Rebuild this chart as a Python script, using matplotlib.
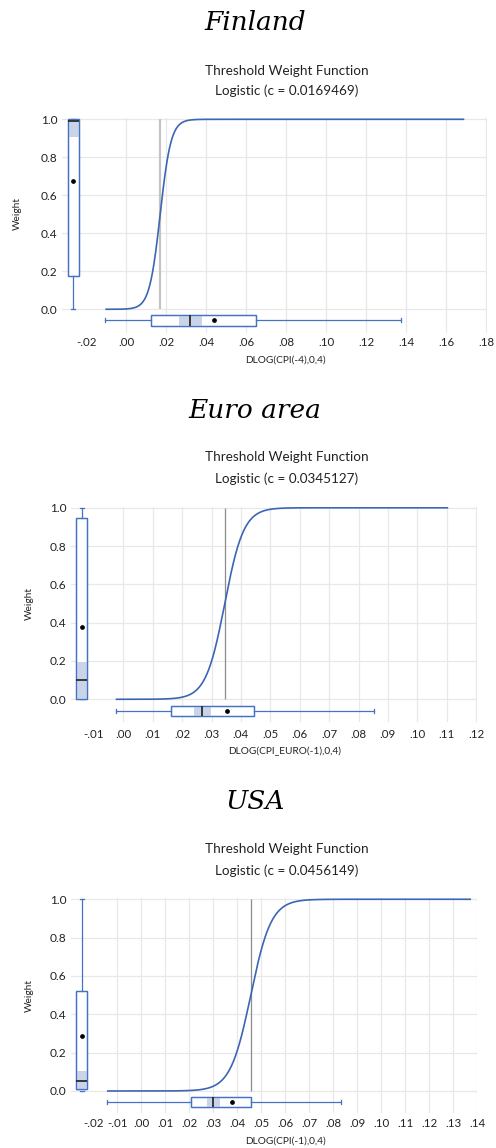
import numpy as np
import matplotlib
matplotlib.use("Agg")
import matplotlib.pyplot as plt
from matplotlib.patches import Rectangle, PathPatch

# ---------------- data ----------------
countries = ["Finland", "Euro area", "USA"]
thresholds = [0.0169469, 0.0345127, 0.0456149]
slopes = [370.0, 310.0, 235.0]
curve_start = [-0.0105, -0.0026, -0.0143]
curve_end = [0.169, 0.1105, 0.1374]
x_titles = ["DLOG(CPI(-4),0,4)", "DLOG(CPI_EURO(-1),0,4)", "DLOG(CPI(-1),0,4)"]

fin_xticks = [-0.02, 0.00, 0.02, 0.04, 0.06, 0.08, 0.10, 0.12, 0.14, 0.16, 0.18]
fin_xlabels = ["-.02", ".00", ".02", ".04", ".06", ".08", ".10", ".12", ".14", ".16", ".18"]
euro_xticks = [-0.01, 0.00, 0.01, 0.02, 0.03, 0.04, 0.05, 0.06, 0.07, 0.08, 0.09, 0.10, 0.11, 0.12]
euro_xlabels = ["-.01", ".00", ".01", ".02", ".03", ".04", ".05", ".06", ".07", ".08", ".09", ".10", ".11", ".12"]
usa_xticks = [-0.02, -0.01, 0.00, 0.01, 0.02, 0.03, 0.04, 0.05, 0.06, 0.07, 0.08, 0.09, 0.10, 0.11, 0.12, 0.13, 0.14]
usa_xlabels = ["-.02", "-.01", ".00", ".01", ".02", ".03", ".04", ".05", ".06", ".07", ".08", ".09", ".10", ".11", ".12", ".13", ".14"]
xticks_all = [fin_xticks, euro_xticks, usa_xticks]
xlabels_all = [fin_xlabels, euro_xlabels, usa_xlabels]
xgrid_first = [0.00, 0.00, -0.01]

yticks = [0.0, 0.2, 0.4, 0.6, 0.8, 1.0]
ylabels = ["0.0", "0.2", "0.4", "0.6", "0.8", "1.0"]

# horizontal box plot of threshold variable
x_whislo = [-0.0105, -0.0026, -0.0143]
x_q1 = [0.0122, 0.0163, 0.0206]
x_med = [0.0319, 0.0269, 0.0300]
x_q3 = [0.0650, 0.0446, 0.0458]
x_whishi = [0.1374, 0.0854, 0.0833]
x_mean = [0.0440, 0.0352, 0.0377]
x_ci_lo = [0.0262, 0.0240, 0.0272]
x_ci_hi = [0.0377, 0.0297, 0.0328]

# vertical box plot of weights
w_whislo = [0.0, 0.0, 0.0]
w_q1 = [0.175, 0.004, 0.010]
w_med = [0.993, 0.099, 0.050]
w_q3 = [1.0, 0.945, 0.522]
w_whishi = [1.0, 0.997, 1.0]
w_mean = [0.677, 0.379, 0.287]
w_ci_lo = [0.905, 0.000, 0.000]
w_ci_hi = [1.0, 0.193, 0.104]

# ---------------- layout ----------------
W, H = 496, 1148
fig = plt.figure(figsize=(W / 100, H / 100), dpi=100)
fig.patch.set_facecolor("white")

def fx(px):
    return px / W

def fy(py):
    return 1 - py / H

# axes rectangles in pixels: left, right, top, bottom
ax_rects = [(62, 487, 118.35, 333.05), (71, 476.7, 506.8, 721.7), (71, 477.3, 898.3, 1113.05)]
xlims = [(-0.03215, 0.18035), (-0.01779, 0.1202), (-0.02929, 0.14)]
ylims = [(-0.125, 1.005), (-0.117, 1.005), (-0.115, 1.005)]
hbox_pos = [-0.058, -0.061, -0.059]
hbox_w = [0.056, 0.057, 0.052]
vbox_pos = [-0.0265, -0.01415, -0.0248]
vbox_w = [0.0055, 0.0036, 0.0044]
xtick_pad = [3.0, 5.0, 3.6]
title_y = [30.3, 417.7, 809.3]
sub_y = [(70.7, 90.7), (457.3, 478.7), (849.3, 870.7)]
xlab_y = [360, 751.7, 1141]
wlab = [(17.3, 213.3), (29.3, 604), (29.3, 995)]
thr_style = [("#c4c4c4", 1.6), ("#8c8c8c", 0.9), ("#8c8c8c", 0.9)]

blue = "#4472c4"
curve_blue = "#3b66b4"
shade = "#c9d4e9"
grid_c = "#e8e8e8"
sans = "Lato"

for i in range(3):
    L, R, T, B = ax_rects[i]
    ax = fig.add_axes([fx(L), fy(B), fx(R - L), (B - T) / H])
    ax.set_xlim(*xlims[i])
    ax.set_ylim(*ylims[i])
    for s in ax.spines.values():
        s.set_visible(False)

    # grid
    for yv in yticks:
        ax.axhline(yv, color=grid_c, lw=0.9, zorder=0)
    for xv in xticks_all[i]:
        if xv >= xgrid_first[i] - 1e-9:
            ax.axvline(xv, color=grid_c, lw=0.9, zorder=0)

    # ticks
    ax.set_xticks(xticks_all[i])
    ax.set_xticklabels(xlabels_all[i], fontsize=8.3, family=sans, color="#222222")
    ax.set_yticks(yticks)
    ax.set_yticklabels(ylabels, fontsize=8.6, family=sans, color="#222222")
    ax.tick_params(axis="x", length=0, pad=xtick_pad[i])
    ax.tick_params(axis="y", length=0, pad=3.3)

    # threshold line
    col, lw = thr_style[i]
    ax.vlines(thresholds[i], 0, 1, color=col, lw=lw, zorder=1)

    # logistic curve
    xs = np.linspace(curve_start[i], curve_end[i], 800)
    ws = 1.0 / (1.0 + np.exp(-slopes[i] * (xs - thresholds[i])))
    ax.plot(xs, ws, color=curve_blue, lw=1.2, zorder=2, solid_capstyle="butt")

    # horizontal box plot
    hst = [dict(med=x_med[i], q1=x_q1[i], q3=x_q3[i], whislo=x_whislo[i],
                whishi=x_whishi[i], mean=x_mean[i], fliers=[])]
    # vertical box plot
    vst = [dict(med=w_med[i], q1=w_q1[i], q3=w_q3[i], whislo=w_whislo[i],
                whishi=w_whishi[i], mean=w_mean[i], fliers=[])]
    for st, pos, wid, orient, cw, clo, chi in [
        (hst, hbox_pos[i], hbox_w[i], "horizontal", 0.022, x_ci_lo[i], x_ci_hi[i]),
        (vst, vbox_pos[i], vbox_w[i], "vertical", vbox_w[i] * 0.35, w_ci_lo[i], w_ci_hi[i]),
    ]:
        art = ax.bxp(st, positions=[pos], widths=[wid], orientation=orient,
                     patch_artist=True, showmeans=True, showfliers=False,
                     capwidths=[cw], manage_ticks=False,
                     boxprops=dict(facecolor="white", edgecolor=blue, linewidth=0.9),
                     whiskerprops=dict(color=blue, linewidth=0.9),
                     capprops=dict(color=blue, linewidth=0.9),
                     medianprops=dict(color="#1e1e1e", linewidth=1.2),
                     meanprops=dict(marker="o", markersize=2.4,
                                    markerfacecolor="black", markeredgecolor="black"))
        box = art["boxes"][0]
        box.set_zorder(3)
        for k in ("whiskers", "caps"):
            for a in art[k]:
                a.set_zorder(3)
        if orient == "horizontal":
            rect = Rectangle((clo, pos - wid / 2), chi - clo, wid, facecolor=shade,
                             edgecolor="none", zorder=3.1)
        else:
            rect = Rectangle((pos - wid / 2, clo), wid, chi - clo, facecolor=shade,
                             edgecolor="none", zorder=3.1)
        ax.add_patch(rect)
        ax.add_patch(PathPatch(box.get_path(), transform=box.get_transform(),
                               facecolor="none", edgecolor=blue, linewidth=0.9, zorder=3.3))
        for a in art["medians"]:
            a.set_zorder(3.5)
        for a in art["means"]:
            a.set_zorder(3.6)

    # texts
    fig.text(fx(255), fy(title_y[i]), countries[i], ha="center", va="baseline",
             fontsize=19, style="italic", family="DejaVu Serif", color="black")
    fig.text(fx(287), fy(sub_y[i][0]), "Threshold Weight Function", ha="center",
             va="center", fontsize=9.7, family=sans, color="#222222")
    fig.text(fx(287), fy(sub_y[i][1]), "Logistic (c = %.7f)" % thresholds[i], ha="center",
             va="center", fontsize=9.7, family=sans, color="#222222")
    fig.text(fx(285), fy(xlab_y[i]), x_titles[i], ha="center", va="center",
             fontsize=7.3, family=sans, color="#222222")
    fig.text(fx(wlab[i][0]), fy(wlab[i][1]), "Weight", ha="center", va="center",
             rotation=90, fontsize=7.3, family=sans, color="#222222")

fig.savefig("out.png", dpi=100, facecolor="white")
